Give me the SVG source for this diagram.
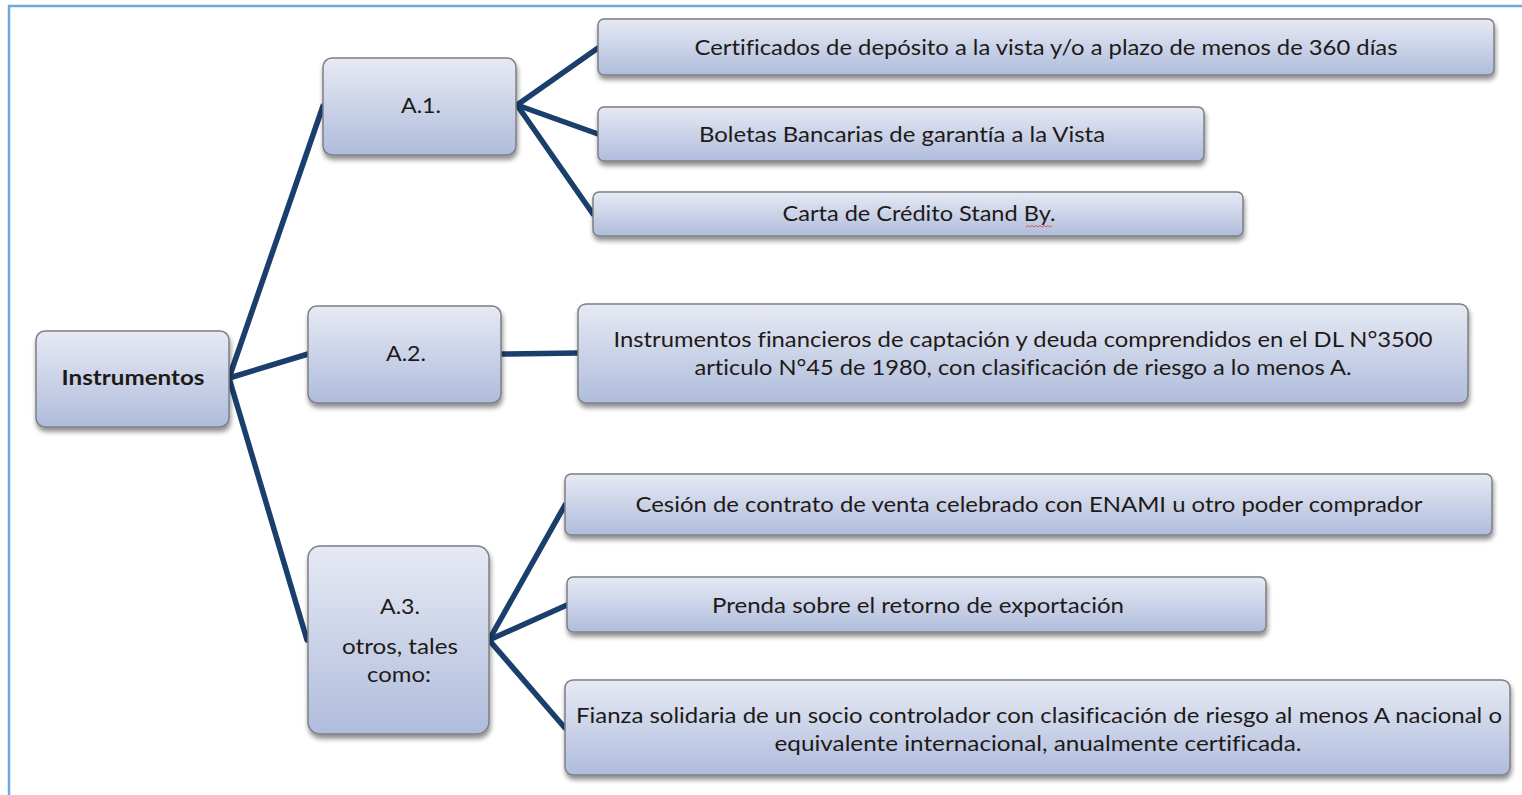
<svg xmlns="http://www.w3.org/2000/svg" width="1522" height="795" viewBox="0 0 1522 795">
<defs>
<linearGradient id="g" x1="0" y1="0" x2="0" y2="1">
<stop offset="0" stop-color="#e7eaf4"/>
<stop offset="1" stop-color="#afbcdc"/>
</linearGradient>
<filter id="sh" x="-5%" y="-20%" width="110%" height="150%">
<feGaussianBlur in="SourceAlpha" stdDeviation="2.5"/>
<feOffset dx="1" dy="4" result="b"/>
<feComponentTransfer><feFuncA type="linear" slope="0.45"/></feComponentTransfer>
<feMerge><feMergeNode/><feMergeNode in="SourceGraphic"/></feMerge>
</filter>
</defs>
<style>
.box{fill:url(#g);stroke:#7d7f84;stroke-width:1.5;filter:url(#sh)}
.t{font-family:Lato,"Liberation Sans",sans-serif;font-size:21px;fill:#1e1a18;text-anchor:middle;font-variant-ligatures:none}
.b{font-weight:bold}
.c{stroke:#1b3f6c;stroke-width:5.5;fill:none;stroke-linecap:round}
</style>
<rect x="0" y="0" width="1522" height="795" fill="#ffffff"/>
<path d="M9,795 V6 H1522" fill="none" stroke="#6fa8dc" stroke-width="2.5"/>
<g id="connectors">
<line class="c" x1="229" y1="378" x2="323" y2="106"/>
<line class="c" x1="229" y1="378" x2="308" y2="354"/>
<line class="c" x1="229" y1="378" x2="307" y2="640"/>
<line class="c" x1="517" y1="105" x2="598" y2="48"/>
<line class="c" x1="517" y1="105" x2="598" y2="134"/>
<line class="c" x1="517" y1="105" x2="593" y2="214"/>
<line class="c" x1="501" y1="354" x2="578" y2="353"/>
<line class="c" x1="489" y1="640" x2="565" y2="505"/>
<line class="c" x1="489" y1="640" x2="567" y2="605"/>
<line class="c" x1="489" y1="640" x2="565" y2="728"/>
</g>
<g id="instrumentos">
<rect class="box" x="36" y="331" width="193" height="96" rx="9"/>
<text class="t b" x="133" y="385" textLength="143" lengthAdjust="spacingAndGlyphs">Instrumentos</text>
</g>
<g id="a1">
<rect class="box" x="323" y="58" width="193" height="97" rx="9"/>
<text class="t" x="421" y="113" textLength="40" lengthAdjust="spacingAndGlyphs">A.1.</text>
</g>
<g id="a2">
<rect class="box" x="308" y="306" width="193" height="97" rx="9"/>
<text class="t" x="406" y="361" textLength="40" lengthAdjust="spacingAndGlyphs">A.2.</text>
</g>
<g id="a3">
<rect class="box" x="308" y="546" width="181" height="188" rx="12"/>
<text class="t" x="400" y="614" textLength="40" lengthAdjust="spacingAndGlyphs">A.3.</text>
<text class="t" x="400" y="654" textLength="116" lengthAdjust="spacingAndGlyphs">otros, tales</text>
<text class="t" x="399" y="682" textLength="64" lengthAdjust="spacingAndGlyphs">como:</text>
</g>
<g id="cert">
<rect class="box" x="598" y="19" width="896" height="56" rx="6"/>
<text class="t" x="1046" y="55" textLength="703" lengthAdjust="spacingAndGlyphs">Certificados de depósito a la vista y/o a plazo de menos de 360 días</text>
</g>
<g id="boletas">
<rect class="box" x="598" y="107" width="606" height="54" rx="6"/>
<text class="t" x="902" y="142" textLength="406" lengthAdjust="spacingAndGlyphs">Boletas Bancarias de garantía a la Vista</text>
</g>
<g id="carta">
<rect class="box" x="593" y="192" width="650" height="44" rx="6"/>
<text class="t" x="919" y="221" textLength="273" lengthAdjust="spacingAndGlyphs">Carta de Crédito Stand By.</text>
<path d="M1026,227 l2,-1.5 l2,1.5 l2,-1.5 l2,1.5 l2,-1.5 l2,1.5 l2,-1.5 l2,1.5 l2,-1.5 l2,1.5 l2,-1.5 l2,1.5 l2,-1.5" fill="none" stroke="#e04040" stroke-width="0.8"/>
</g>
<g id="financieros">
<rect class="box" x="578" y="304" width="890" height="99" rx="8"/>
<text class="t" x="1023" y="347" textLength="819" lengthAdjust="spacingAndGlyphs">Instrumentos financieros de captación y deuda comprendidos en el DL N°3500</text>
<text class="t" x="1023" y="375" textLength="657" lengthAdjust="spacingAndGlyphs">articulo N°45 de 1980, con clasificación de riesgo a lo menos A.</text>
</g>
<g id="cesion">
<rect class="box" x="565" y="474" width="927" height="61" rx="6"/>
<text class="t" x="1029" y="512" textLength="787" lengthAdjust="spacingAndGlyphs">Cesión de contrato de venta celebrado con ENAMI u otro poder comprador</text>
</g>
<g id="prenda">
<rect class="box" x="567" y="577" width="699" height="55" rx="6"/>
<text class="t" x="918" y="613" textLength="412" lengthAdjust="spacingAndGlyphs">Prenda sobre el retorno de exportación</text>
</g>
<g id="fianza">
<rect class="box" x="565" y="680" width="945" height="95" rx="8"/>
<text class="t" x="1039" y="723" textLength="926" lengthAdjust="spacingAndGlyphs">Fianza solidaria de un socio controlador con clasificación de riesgo al menos A nacional o</text>
<text class="t" x="1038" y="751" textLength="527" lengthAdjust="spacingAndGlyphs">equivalente internacional, anualmente certificada.</text>
</g>
</svg>
